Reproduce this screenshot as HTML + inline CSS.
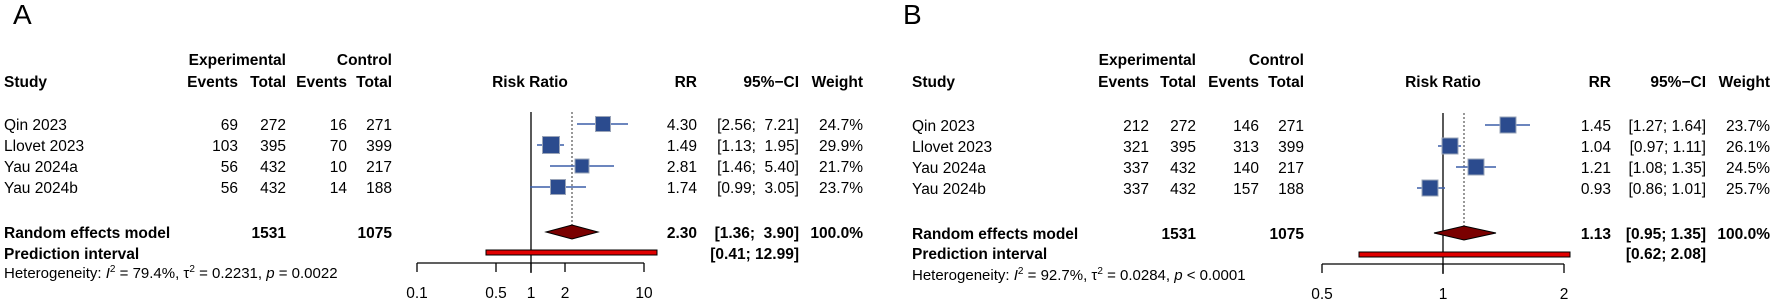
<!DOCTYPE html>
<html><head><meta charset="utf-8"><style>
html,body{margin:0;padding:0;background:#fff;}
svg{display:block;font-family:"Liberation Sans",Arial,sans-serif;}
.b{font-weight:bold}
</style></head><body>
<svg width="1772" height="302" viewBox="0 0 1772 302" xmlns="http://www.w3.org/2000/svg" font-size="15.5" fill="#000">
<!-- Panel A -->
<text x="13" y="24" font-size="28">A</text>
<g class="b">
<text x="286" y="65" text-anchor="end">Experimental</text>
<text x="392" y="65" text-anchor="end">Control</text>
<text x="4" y="87">Study</text>
<text x="238" y="87" text-anchor="end">Events</text>
<text x="286" y="87" text-anchor="end">Total</text>
<text x="347" y="87" text-anchor="end">Events</text>
<text x="392" y="87" text-anchor="end">Total</text>
<text x="530" y="87" text-anchor="middle">Risk Ratio</text>
<text x="697" y="87" text-anchor="end">RR</text>
<text x="799" y="87" text-anchor="end">95%−CI</text>
<text x="863" y="87" text-anchor="end">Weight</text>
</g>
<g>
<text x="4" y="130">Qin 2023</text><text x="238" y="130" text-anchor="end">69</text><text x="286" y="130" text-anchor="end">272</text><text x="347" y="130" text-anchor="end">16</text><text x="392" y="130" text-anchor="end">271</text>
<text x="4" y="151">Llovet 2023</text><text x="238" y="151" text-anchor="end">103</text><text x="286" y="151" text-anchor="end">395</text><text x="347" y="151" text-anchor="end">70</text><text x="392" y="151" text-anchor="end">399</text>
<text x="4" y="172">Yau 2024a</text><text x="238" y="172" text-anchor="end">56</text><text x="286" y="172" text-anchor="end">432</text><text x="347" y="172" text-anchor="end">10</text><text x="392" y="172" text-anchor="end">217</text>
<text x="4" y="193">Yau 2024b</text><text x="238" y="193" text-anchor="end">56</text><text x="286" y="193" text-anchor="end">432</text><text x="347" y="193" text-anchor="end">14</text><text x="392" y="193" text-anchor="end">188</text>
<text x="697" y="130" text-anchor="end">4.30</text><text x="799" y="130" text-anchor="end" xml:space="preserve">[2.56;  7.21]</text><text x="863" y="130" text-anchor="end">24.7%</text>
<text x="697" y="151" text-anchor="end">1.49</text><text x="799" y="151" text-anchor="end" xml:space="preserve">[1.13;  1.95]</text><text x="863" y="151" text-anchor="end">29.9%</text>
<text x="697" y="172" text-anchor="end">2.81</text><text x="799" y="172" text-anchor="end" xml:space="preserve">[1.46;  5.40]</text><text x="863" y="172" text-anchor="end">21.7%</text>
<text x="697" y="193" text-anchor="end">1.74</text><text x="799" y="193" text-anchor="end" xml:space="preserve">[0.99;  3.05]</text><text x="863" y="193" text-anchor="end">23.7%</text>
</g>
<g class="b">
<text x="4" y="238">Random effects model</text><text x="286" y="238" text-anchor="end">1531</text><text x="392" y="238" text-anchor="end">1075</text>
<text x="697" y="238" text-anchor="end">2.30</text><text x="799" y="238" text-anchor="end" xml:space="preserve">[1.36;  3.90]</text><text x="863" y="238" text-anchor="end">100.0%</text>
<text x="4" y="259">Prediction interval</text><text x="799" y="259" text-anchor="end">[0.41; 12.99]</text>
</g>
<text x="4" y="278" font-size="15">Heterogeneity: <tspan font-style="italic">I</tspan><tspan dy="-6" font-size="10">2</tspan><tspan dy="6"> = 79.4%, τ</tspan><tspan dy="-6" font-size="10">2</tspan><tspan dy="6"> = 0.2231, </tspan><tspan font-style="italic">p</tspan> = 0.0022</text>
<line x1="531" y1="112" x2="531" y2="273" stroke="#000" stroke-width="1.3"/>
<line x1="572" y1="112" x2="572" y2="226" stroke="#555" stroke-width="1.2" stroke-dasharray="2,2"/>
<g stroke="#3b5ea8" stroke-width="1.5">
<line x1="577" y1="124" x2="628" y2="124"/><line x1="537" y1="145" x2="564" y2="145"/><line x1="550" y1="166" x2="614" y2="166"/><line x1="530" y1="187" x2="586" y2="187"/>
</g>
<g fill="#2b4b8e" stroke="#9aa4b8" stroke-width="1">
<rect x="595.5" y="116.5" width="15" height="15"/><rect x="542.5" y="136.5" width="17" height="17"/><rect x="575" y="159" width="14" height="14"/><rect x="550.5" y="179.5" width="15" height="15"/>
</g>
<polygon points="546,232 572,225 598,232 572,239" fill="#7a0000" stroke="#000" stroke-width="1"/>
<rect x="486" y="250" width="171" height="5" fill="#e00000" stroke="#000" stroke-width="1"/>
<g stroke="#000" stroke-width="1.3" fill="none">
<line x1="417" y1="263" x2="644" y2="263"/>
<line x1="417" y1="263" x2="417" y2="272"/><line x1="496" y1="263" x2="496" y2="272"/><line x1="531" y1="263" x2="531" y2="272"/><line x1="565" y1="263" x2="565" y2="272"/><line x1="644" y1="263" x2="644" y2="272"/>
</g>
<g text-anchor="middle">
<text x="417" y="298">0.1</text><text x="496" y="298">0.5</text><text x="531" y="298">1</text><text x="565" y="298">2</text><text x="644" y="298">10</text>
</g>

<!-- Panel B -->
<text x="903" y="24" font-size="28">B</text>
<g class="b">
<text x="1196" y="65" text-anchor="end">Experimental</text>
<text x="1304" y="65" text-anchor="end">Control</text>
<text x="912" y="87">Study</text>
<text x="1149" y="87" text-anchor="end">Events</text>
<text x="1196" y="87" text-anchor="end">Total</text>
<text x="1259" y="87" text-anchor="end">Events</text>
<text x="1304" y="87" text-anchor="end">Total</text>
<text x="1443" y="87" text-anchor="middle">Risk Ratio</text>
<text x="1611" y="87" text-anchor="end">RR</text>
<text x="1706" y="87" text-anchor="end">95%−CI</text>
<text x="1770" y="87" text-anchor="end">Weight</text>
</g>
<g>
<text x="912" y="131">Qin 2023</text><text x="1149" y="131" text-anchor="end">212</text><text x="1196" y="131" text-anchor="end">272</text><text x="1259" y="131" text-anchor="end">146</text><text x="1304" y="131" text-anchor="end">271</text>
<text x="912" y="152">Llovet 2023</text><text x="1149" y="152" text-anchor="end">321</text><text x="1196" y="152" text-anchor="end">395</text><text x="1259" y="152" text-anchor="end">313</text><text x="1304" y="152" text-anchor="end">399</text>
<text x="912" y="173">Yau 2024a</text><text x="1149" y="173" text-anchor="end">337</text><text x="1196" y="173" text-anchor="end">432</text><text x="1259" y="173" text-anchor="end">140</text><text x="1304" y="173" text-anchor="end">217</text>
<text x="912" y="194">Yau 2024b</text><text x="1149" y="194" text-anchor="end">337</text><text x="1196" y="194" text-anchor="end">432</text><text x="1259" y="194" text-anchor="end">157</text><text x="1304" y="194" text-anchor="end">188</text>
<text x="1611" y="131" text-anchor="end">1.45</text><text x="1706" y="131" text-anchor="end">[1.27; 1.64]</text><text x="1770" y="131" text-anchor="end">23.7%</text>
<text x="1611" y="152" text-anchor="end">1.04</text><text x="1706" y="152" text-anchor="end">[0.97; 1.11]</text><text x="1770" y="152" text-anchor="end">26.1%</text>
<text x="1611" y="173" text-anchor="end">1.21</text><text x="1706" y="173" text-anchor="end">[1.08; 1.35]</text><text x="1770" y="173" text-anchor="end">24.5%</text>
<text x="1611" y="194" text-anchor="end">0.93</text><text x="1706" y="194" text-anchor="end">[0.86; 1.01]</text><text x="1770" y="194" text-anchor="end">25.7%</text>
</g>
<g class="b">
<text x="912" y="239">Random effects model</text><text x="1196" y="239" text-anchor="end">1531</text><text x="1304" y="239" text-anchor="end">1075</text>
<text x="1611" y="239" text-anchor="end">1.13</text><text x="1706" y="239" text-anchor="end">[0.95; 1.35]</text><text x="1770" y="239" text-anchor="end">100.0%</text>
<text x="912" y="259">Prediction interval</text><text x="1706" y="259" text-anchor="end">[0.62; 2.08]</text>
</g>
<text x="912" y="280" font-size="15">Heterogeneity: <tspan font-style="italic">I</tspan><tspan dy="-6" font-size="10">2</tspan><tspan dy="6"> = 92.7%, τ</tspan><tspan dy="-6" font-size="10">2</tspan><tspan dy="6"> = 0.0284, </tspan><tspan font-style="italic">p</tspan> &lt; 0.0001</text>
<line x1="1443" y1="113" x2="1443" y2="274" stroke="#000" stroke-width="1.3"/>
<line x1="1464" y1="113" x2="1464" y2="227" stroke="#555" stroke-width="1.2" stroke-dasharray="2,2"/>
<g stroke="#3b5ea8" stroke-width="1.5">
<line x1="1485" y1="125" x2="1530" y2="125"/><line x1="1438" y1="146" x2="1461" y2="146"/><line x1="1456" y1="167" x2="1496" y2="167"/><line x1="1417" y1="188" x2="1445" y2="188"/>
</g>
<g fill="#2b4b8e" stroke="#9aa4b8" stroke-width="1">
<rect x="1500" y="117" width="16" height="16"/><rect x="1442" y="138" width="16" height="16"/><rect x="1468" y="159" width="16" height="16"/><rect x="1422" y="180" width="16" height="16"/>
</g>
<polygon points="1434,233 1464,226 1496,233 1464,240" fill="#7a0000" stroke="#000" stroke-width="1"/>
<rect x="1359" y="252" width="211" height="5" fill="#e00000" stroke="#000" stroke-width="1"/>
<g stroke="#000" stroke-width="1.3" fill="none">
<line x1="1322" y1="264" x2="1564" y2="264"/>
<line x1="1322" y1="264" x2="1322" y2="273"/><line x1="1443" y1="264" x2="1443" y2="273"/><line x1="1564" y1="264" x2="1564" y2="273"/>
</g>
<g text-anchor="middle">
<text x="1322" y="299">0.5</text><text x="1443" y="299">1</text><text x="1564" y="299">2</text>
</g>
</svg>
</body></html>
